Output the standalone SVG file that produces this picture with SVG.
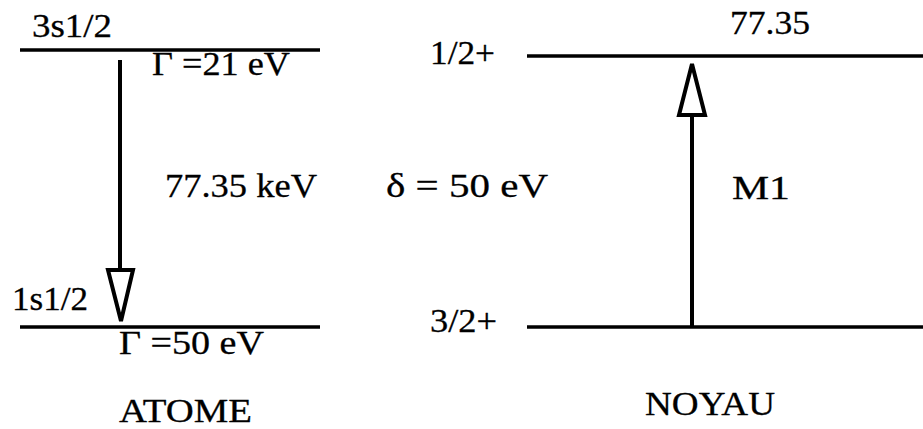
<svg xmlns="http://www.w3.org/2000/svg" width="923" height="429" viewBox="0 0 923 429">
<style>
  text { font-family: "Liberation Serif", "Times New Roman", "DejaVu Serif", serif; font-size: 34px; fill: #000; stroke: #000; stroke-width: 0.3; }
  .lvl { stroke: #000; stroke-width: 3.5; fill: none; }
  .shaft { stroke: #000; stroke-width: 4; fill: none; }
  .head { stroke: #000; stroke-width: 4; fill: #fff; stroke-linejoin: miter; }
</style>
<rect width="923" height="429" fill="#fff"/>
<g id="atome">
  <g id="level-3s12">
    <line class="lvl" x1="20" y1="50" x2="320" y2="50"/>
    <text x="32" y="37" textLength="80" lengthAdjust="spacingAndGlyphs">3s1/2</text>
    <text x="152" y="75" textLength="138" lengthAdjust="spacingAndGlyphs">Γ =21 eV</text>
  </g>
  <g id="level-1s12">
    <line class="lvl" x1="20" y1="327" x2="320" y2="327"/>
    <text x="12" y="310" textLength="76" lengthAdjust="spacingAndGlyphs">1s1/2</text>
    <text x="119" y="354" textLength="145" lengthAdjust="spacingAndGlyphs">Γ =50 eV</text>
  </g>
  <text id="label-atome" x="119" y="422" textLength="133" lengthAdjust="spacingAndGlyphs">ATOME</text>
</g>
<g id="noyau">
  <g id="level-12">
    <line class="lvl" x1="527" y1="56" x2="923" y2="56"/>
    <text x="430" y="64" textLength="65" lengthAdjust="spacingAndGlyphs">1/2+</text>
    <text x="730" y="34" textLength="80" lengthAdjust="spacingAndGlyphs">77.35</text>
  </g>
  <g id="level-32">
    <line class="lvl" x1="527" y1="327" x2="923" y2="327"/>
    <text x="430" y="332" textLength="67" lengthAdjust="spacingAndGlyphs">3/2+</text>
  </g>
  <text id="label-noyau" x="645" y="415" textLength="130" lengthAdjust="spacingAndGlyphs">NOYAU</text>
</g>
<g id="connectors">
  <g id="transition-atome">
    <line class="shaft" x1="120" y1="60" x2="120" y2="270"/>
    <polygon class="head" points="108,270 133,270 121,321"/>
    <text x="165" y="197" textLength="152" lengthAdjust="spacingAndGlyphs">77.35 keV</text>
  </g>
  <g id="transition-noyau">
    <line class="shaft" x1="692" y1="115" x2="692" y2="326"/>
    <polygon class="head" points="692,64 679,115 705,115"/>
    <text x="732" y="199" textLength="58" lengthAdjust="spacingAndGlyphs">M1</text>
  </g>
  <text id="delta" x="386" y="197" textLength="162" lengthAdjust="spacingAndGlyphs">δ = 50 eV</text>
</g>
</svg>
